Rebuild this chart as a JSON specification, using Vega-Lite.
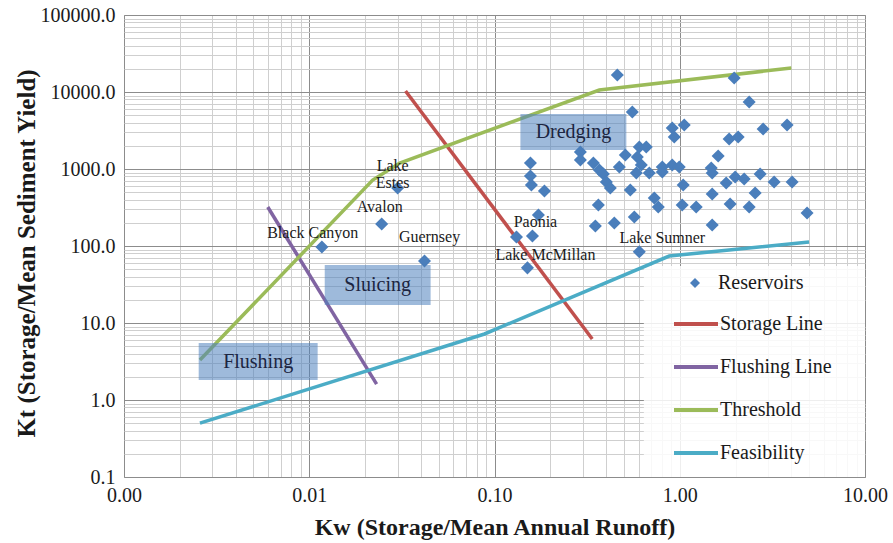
{
  "$schema": "https://vega.github.io/schema/vega-lite/v6.json",
  "width": 741,
  "height": 462,
  "autosize": {"type": "none"},
  "padding": {"left": 124, "top": 15, "right": 28, "bottom": 66},
  "background": "white",
  "config": {"view": {"stroke": "#a6a6a6", "strokeWidth": 1}, "font": "Liberation Serif"},
  "datasets": {
    "legendbox": [{"kw": 0.64, "kw2": 10, "kt": 0.1, "kt2": 55}],
    "lines": [
      {"series": "Storage Line", "order": 1, "kw": 0.0331, "kt": 10300},
      {"series": "Storage Line", "order": 2, "kw": 0.337, "kt": 6.2},
      {"series": "Flushing Line", "order": 1, "kw": 0.00597, "kt": 321},
      {"series": "Flushing Line", "order": 2, "kw": 0.0231, "kt": 1.61},
      {"series": "Threshold", "order": 1, "kw": 0.00257, "kt": 3.3},
      {"series": "Threshold", "order": 2, "kw": 0.022, "kt": 719},
      {"series": "Threshold", "order": 3, "kw": 0.0308, "kt": 1196},
      {"series": "Threshold", "order": 4, "kw": 0.368, "kt": 10600},
      {"series": "Threshold", "order": 5, "kw": 4.0, "kt": 20500},
      {"series": "Feasibility", "order": 1, "kw": 0.00257, "kt": 0.5},
      {"series": "Feasibility", "order": 2, "kw": 0.0883, "kt": 7.2},
      {"series": "Feasibility", "order": 3, "kw": 0.877, "kt": 74},
      {"series": "Feasibility", "order": 4, "kw": 4.99, "kt": 113}
    ],
    "reservoirs": [
      {"type": "Reservoirs", "kw": 0.0117, "kt": 97},
      {"type": "Reservoirs", "kw": 0.0246, "kt": 193},
      {"type": "Reservoirs", "kw": 0.030, "kt": 567},
      {"type": "Reservoirs", "kw": 0.0419, "kt": 64},
      {"type": "Reservoirs", "kw": 0.1726, "kt": 253},
      {"type": "Reservoirs", "kw": 0.1314, "kt": 131},
      {"type": "Reservoirs", "kw": 0.1603, "kt": 135},
      {"type": "Reservoirs", "kw": 0.1506, "kt": 52},
      {"type": "Reservoirs", "kw": 0.1563, "kt": 1196},
      {"type": "Reservoirs", "kw": 0.1563, "kt": 812},
      {"type": "Reservoirs", "kw": 0.1582, "kt": 620},
      {"type": "Reservoirs", "kw": 0.186, "kt": 518},
      {"type": "Reservoirs", "kw": 0.2908, "kt": 1663},
      {"type": "Reservoirs", "kw": 0.2908, "kt": 1309},
      {"type": "Reservoirs", "kw": 0.3418, "kt": 1196},
      {"type": "Reservoirs", "kw": 0.3681, "kt": 970},
      {"type": "Reservoirs", "kw": 0.3869, "kt": 861},
      {"type": "Reservoirs", "kw": 0.4016, "kt": 678},
      {"type": "Reservoirs", "kw": 0.4219, "kt": 567},
      {"type": "Reservoirs", "kw": 0.4719, "kt": 1062},
      {"type": "Reservoirs", "kw": 0.5084, "kt": 1520},
      {"type": "Reservoirs", "kw": 0.6049, "kt": 1931},
      {"type": "Reservoirs", "kw": 0.6597, "kt": 1931},
      {"type": "Reservoirs", "kw": 0.5901, "kt": 1431},
      {"type": "Reservoirs", "kw": 0.6201, "kt": 1127},
      {"type": "Reservoirs", "kw": 0.5828, "kt": 887},
      {"type": "Reservoirs", "kw": 0.6848, "kt": 887},
      {"type": "Reservoirs", "kw": 0.805, "kt": 1062},
      {"type": "Reservoirs", "kw": 0.9112, "kt": 1127},
      {"type": "Reservoirs", "kw": 0.9938, "kt": 1062},
      {"type": "Reservoirs", "kw": 0.805, "kt": 914},
      {"type": "Reservoirs", "kw": 0.5411, "kt": 534},
      {"type": "Reservoirs", "kw": 0.3636, "kt": 341},
      {"type": "Reservoirs", "kw": 0.7287, "kt": 420},
      {"type": "Reservoirs", "kw": 0.7658, "kt": 321},
      {"type": "Reservoirs", "kw": 0.5685, "kt": 238},
      {"type": "Reservoirs", "kw": 0.4434, "kt": 199},
      {"type": "Reservoirs", "kw": 0.3503, "kt": 182},
      {"type": "Reservoirs", "kw": 0.4603, "kt": 16630},
      {"type": "Reservoirs", "kw": 0.5546, "kt": 5500},
      {"type": "Reservoirs", "kw": 0.6049, "kt": 84},
      {"type": "Reservoirs", "kw": 0.9112, "kt": 3408},
      {"type": "Reservoirs", "kw": 0.9342, "kt": 2604},
      {"type": "Reservoirs", "kw": 1.0575, "kt": 3727},
      {"type": "Reservoirs", "kw": 1.848, "kt": 2453},
      {"type": "Reservoirs", "kw": 2.067, "kt": 2604},
      {"type": "Reservoirs", "kw": 1.967, "kt": 15200},
      {"type": "Reservoirs", "kw": 2.37, "kt": 7417},
      {"type": "Reservoirs", "kw": 2.819, "kt": 3308},
      {"type": "Reservoirs", "kw": 3.797, "kt": 3727},
      {"type": "Reservoirs", "kw": 1.612, "kt": 1475},
      {"type": "Reservoirs", "kw": 1.479, "kt": 1030},
      {"type": "Reservoirs", "kw": 1.497, "kt": 887},
      {"type": "Reservoirs", "kw": 1.781, "kt": 658},
      {"type": "Reservoirs", "kw": 1.992, "kt": 787},
      {"type": "Reservoirs", "kw": 2.227, "kt": 742},
      {"type": "Reservoirs", "kw": 2.716, "kt": 861},
      {"type": "Reservoirs", "kw": 3.232, "kt": 678},
      {"type": "Reservoirs", "kw": 4.042, "kt": 678},
      {"type": "Reservoirs", "kw": 1.044, "kt": 620},
      {"type": "Reservoirs", "kw": 2.553, "kt": 488},
      {"type": "Reservoirs", "kw": 1.497, "kt": 474},
      {"type": "Reservoirs", "kw": 1.031, "kt": 341},
      {"type": "Reservoirs", "kw": 1.227, "kt": 321},
      {"type": "Reservoirs", "kw": 1.871, "kt": 351},
      {"type": "Reservoirs", "kw": 2.37, "kt": 321},
      {"type": "Reservoirs", "kw": 1.497, "kt": 187},
      {"type": "Reservoirs", "kw": 4.867, "kt": 268}
    ],
    "regions": [
      {"name": "Dredging", "kw": 0.138, "kw2": 0.515, "kt": 1766, "kt2": 5180, "cw": 0.2666, "ct": 3025},
      {"name": "Sluicing", "kw": 0.01212, "kw2": 0.0452, "kt": 17.1, "kt2": 56.6, "cw": 0.0234, "ct": 31.1},
      {"name": "Flushing", "kw": 0.00253, "kw2": 0.0111, "kt": 1.82, "kt2": 5.5, "cw": 0.0053, "ct": 3.16}
    ],
    "labels": [
      {"name": "Lake\nEstes", "kw": 0.0282, "kt": 1094},
      {"name": "Avalon", "kw": 0.024, "kt": 321},
      {"name": "Black Canyon", "kw": 0.01044, "kt": 147.5},
      {"name": "Guernsey", "kw": 0.0446, "kt": 131},
      {"name": "Paonia", "kw": 0.1663, "kt": 205},
      {"name": "Lake McMillan", "kw": 0.1884, "kt": 76.4},
      {"name": "Lake Sumner", "kw": 0.805, "kt": 127}
    ]
  },
  "encoding": {
    "x": {
      "field": "kw", "type": "quantitative",
      "scale": {"type": "log", "domain": [0.001, 10], "nice": false},
      "axis": {
        "title": "Kw (Storage/Mean Annual Runoff)",
        "values": [0.001,0.002,0.003,0.004,0.005,0.006,0.007,0.008,0.009,0.01,0.02,0.03,0.04,0.05,0.06,0.07,0.08,0.09,0.1,0.2,0.3,0.4,0.5,0.6,0.7,0.8,0.9,1,2,3,4,5,6,7,8,9,10],
        "labelExpr": "abs(log(datum.value)/LN10 - round(log(datum.value)/LN10)) < 0.001 ? format(datum.value, '.2f') : ''",
        "labelOverlap": false, "labelFlush": false,
        "labelFont": "Liberation Serif", "labelFontSize": 20, "labelColor": "#1a1a1a", "labelPadding": 8,
        "ticks": false, "domain": false, "grid": true,
        "gridColor": {"condition": {"test": "abs(log(datum.value)/LN10 - round(log(datum.value)/LN10)) < 0.001", "value": "#8c8c8c"}, "value": "#cfcfcf"},
        "gridWidth": 1,
        "titleFont": "Liberation Serif", "titleFontSize": 24, "titleFontWeight": "bold", "titleColor": "#1a1a1a", "titlePadding": 10
      }
    },
    "y": {
      "field": "kt", "type": "quantitative",
      "scale": {"type": "log", "domain": [0.1, 100000], "nice": false},
      "axis": {
        "title": "Kt (Storage/Mean Sediment Yield)",
        "values": [0.1,0.2,0.3,0.4,0.5,0.6,0.7,0.8,0.9,1,2,3,4,5,6,7,8,9,10,20,30,40,50,60,70,80,90,100,200,300,400,500,600,700,800,900,1000,2000,3000,4000,5000,6000,7000,8000,9000,10000,20000,30000,40000,50000,60000,70000,80000,90000,100000],
        "labelExpr": "abs(log(datum.value)/LN10 - round(log(datum.value)/LN10)) < 0.001 ? format(datum.value, '.1f') : ''",
        "labelOverlap": false, "labelFlush": false,
        "labelFont": "Liberation Serif", "labelFontSize": 20, "labelColor": "#1a1a1a", "labelPadding": 9,
        "ticks": false, "domain": false, "grid": true,
        "gridColor": {"condition": {"test": "abs(log(datum.value)/LN10 - round(log(datum.value)/LN10)) < 0.001", "value": "#8c8c8c"}, "value": "#cfcfcf"},
        "gridWidth": 1,
        "titleFont": "Liberation Serif", "titleFontSize": 25, "titleFontWeight": "bold", "titleColor": "#1a1a1a", "titlePadding": 1, "titleY": 238
      }
    }
  },
  "layer": [
    {
      "data": {"name": "legendbox"},
      "mark": {"type": "rect", "fill": "white", "opacity": 0.85},
      "encoding": {"x2": {"field": "kw2"}, "y2": {"field": "kt2"}}
    },
    {
      "data": {"name": "lines"},
      "mark": {"type": "line", "strokeWidth": 3.5},
      "encoding": {
        "order": {"field": "order", "type": "quantitative"},
        "color": {
          "field": "series", "type": "nominal",
          "scale": {"domain": ["Storage Line", "Flushing Line", "Threshold", "Feasibility"], "range": ["#c0504d", "#8064a2", "#9bbb59", "#4bacc6"]},
          "legend": {
            "title": null, "orient": "none", "legendX": 548, "legendY": 285,
            "symbolType": "stroke", "symbolSize": 1936, "symbolStrokeWidth": 4,
            "labelFont": "Liberation Serif", "labelFontSize": 20, "labelColor": "#1a1a1a", "labelOffset": 0,
            "rowPadding": 9, "padding": 0
          }
        }
      }
    },
    {
      "data": {"name": "regions"},
      "mark": {"type": "rect", "fill": "#4f81bd", "opacity": 0.55},
      "encoding": {"x2": {"field": "kw2"}, "y2": {"field": "kt2"}}
    },
    {
      "data": {"name": "regions"},
      "mark": {"type": "text", "font": "Liberation Serif", "fontSize": 20, "color": "#1c2541", "align": "center", "baseline": "middle"},
      "encoding": {
        "x": {"field": "cw", "type": "quantitative"},
        "y": {"field": "ct", "type": "quantitative"},
        "text": {"field": "name"}
      }
    },
    {
      "data": {"name": "reservoirs"},
      "mark": {"type": "point", "shape": "diamond", "filled": true, "size": 170, "opacity": 1, "color": "#4a7ebb"},
      "encoding": {
        "shape": {
          "field": "type", "type": "nominal",
          "scale": {"domain": ["Reservoirs"], "range": ["diamond"]},
          "legend": {
            "title": null, "orient": "none", "legendX": 561, "legendY": 258,
            "symbolSize": 100, "symbolFillColor": "#4a7ebb", "symbolStrokeColor": "#4a7ebb", "symbolStrokeWidth": 0,
            "labelFont": "Liberation Serif", "labelFontSize": 20, "labelColor": "#1a1a1a", "labelOffset": 13, "padding": 0
          }
        }
      }
    },
    {
      "data": {"name": "labels"},
      "mark": {"type": "text", "font": "Liberation Serif", "fontSize": 16, "color": "#1a1a1a", "align": "center", "baseline": "middle", "lineBreak": "\n", "lineHeight": 17},
      "encoding": {"text": {"field": "name"}}
    }
  ]
}
